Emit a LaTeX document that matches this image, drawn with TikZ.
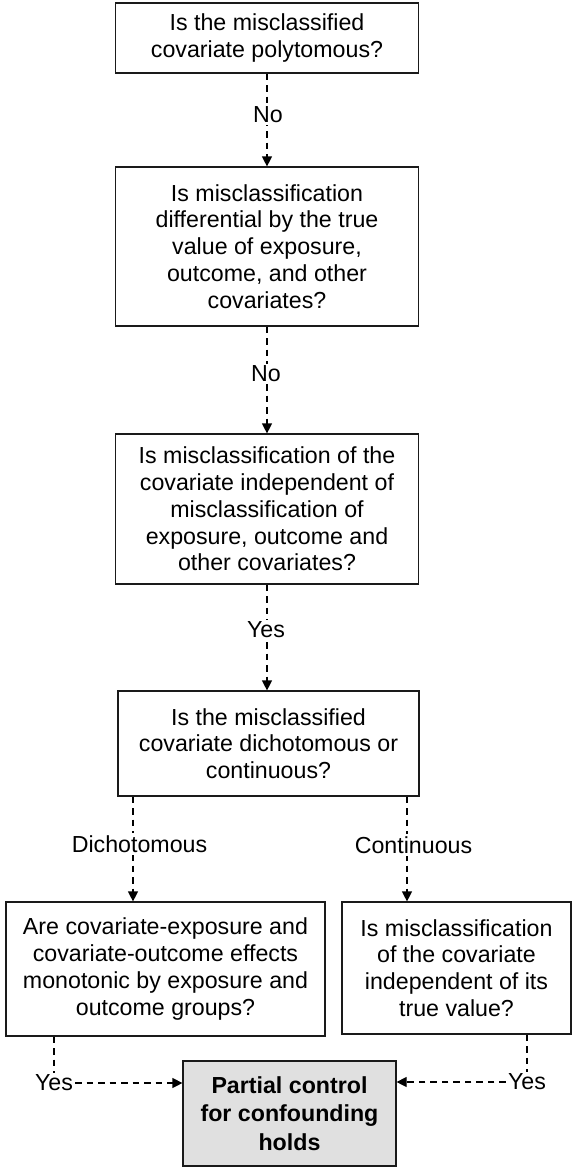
\documentclass[tikz,border=0pt]{standalone}
\usepackage{fontspec}
\setmainfont{Liberation Sans}
\usetikzlibrary{arrows.meta}
\definecolor{holdfill}{HTML}{E0E0E0}
\definecolor{edge}{HTML}{1A1A1A}

\begin{document}
\begin{tikzpicture}[
  x=1pt, y=-1pt,
  every node/.style={font={\fontsize{23.2pt}{26.8pt}\selectfont}},
  qbox/.style={draw=edge, line width=1.2pt, rectangle, align=center,
               inner sep=2pt},
  endbox/.style={qbox, fill=holdfill,
                 font={\fontsize{23.2pt}{28.5pt}\selectfont\bfseries}},
  dashline/.style={draw=black, line width=1.2pt, dash pattern=on 6.5pt off 5pt},
  flow/.style={dashline, -{Triangle[length=10pt,width=10pt]}},
  lbl/.style={fill=white, inner sep=2pt}
]
\useasboundingbox (0,0) rectangle (572,1168);

% question boxes
\node[qbox, minimum width=303pt, minimum height=70pt] (q1) at (267,38)
  {Is the misclassified\\covariate polytomous?};
\node[qbox, minimum width=303pt, minimum height=159pt] (q2) at (267,246.5)
  {Is misclassification\\differential by the true\\value of exposure,\\outcome, and other\\covariates?};
\node[qbox, minimum width=303pt, minimum height=150pt] (q3) at (267,509)
  {Is misclassification of the\\covariate independent of\\misclassification of\\exposure, outcome and\\other covariates?};
\node[qbox, minimum width=301pt, minimum height=105pt] (q4) at (268.5,743.5)
  {Is the misclassified\\covariate dichotomous or\\continuous?};
\node[qbox, minimum width=319pt, minimum height=134pt] (q5) at (165.5,969)
  {Are covariate-exposure and\\covariate-outcome effects\\monotonic by exposure and\\outcome groups?};
\node[qbox, minimum width=229pt, minimum height=132pt] (q6) at (456.5,968)
  {Is misclassification\\of the covariate\\independent of its\\true value?};
\node[endbox, minimum width=213pt, minimum height=105pt] (res) at (289.5,1113.5)
  {Partial control\\for confounding\\holds};

% columns of the two branch arrows
\coordinate (colL) at (133,0);
\coordinate (colR) at (407,0);

% main chain
\draw[flow] (q1.south) -- (q2.north);
\draw[flow] (q2.south) -- (q3.north);
\draw[flow] (q3.south) -- (q3.south |- q4.north);
\draw[flow] (q4.south -| colL) -- (q5.north -| colL);
\draw[flow] (q4.south -| colR) -- (q6.north -| colR);

% answer labels over the arrows
\node[lbl] (a1) at (268,115) {No};
\node[lbl] (a2) at (266,374) {No};
\node[lbl] (a3) at (266,630) {Yes};
\node[lbl] (a4) at (139.5,844) {Dichotomous};
\node[lbl] (a5) at (413.5,845) {Continuous};

% final answers into the result box
\node[inner sep=2pt] (yesL) at (54,1083) {Yes};
\node[inner sep=2pt] (yesR) at (527,1082) {Yes};
\draw[dashline] (q5.south -| yesL) -- (yesL.north);
\draw[flow] (yesL.east) -- (yesL.east -| res.west);
\draw[dashline] (q6.south -| yesR) -- (yesR.north);
\draw[flow] (yesR.west) -- (yesR.west -| res.east);
\end{tikzpicture}
\end{document}
